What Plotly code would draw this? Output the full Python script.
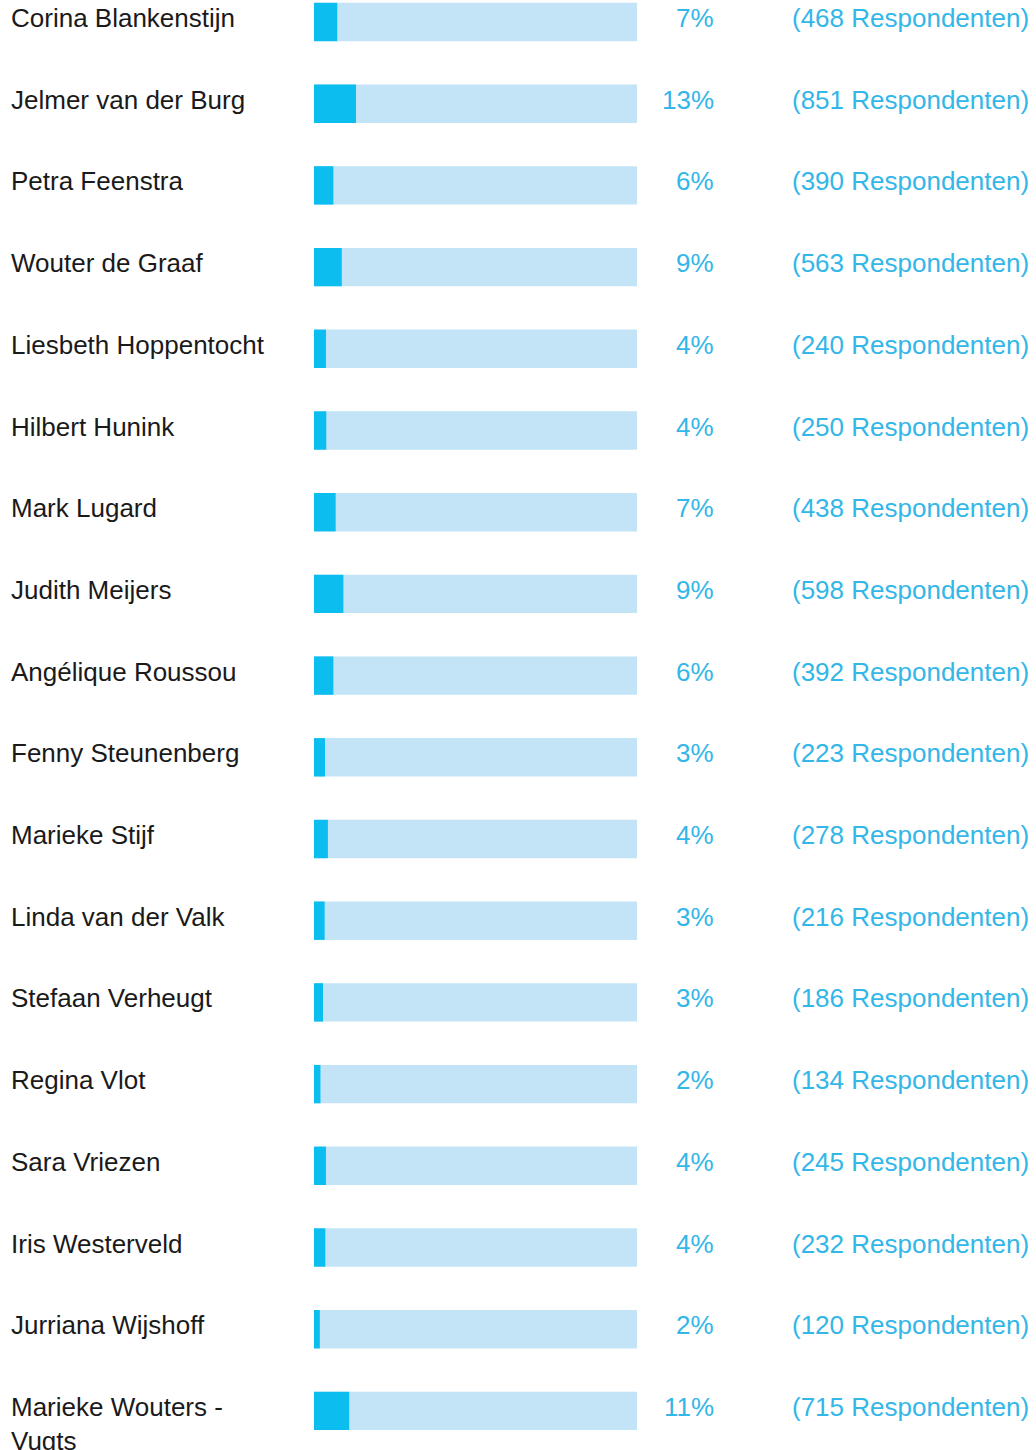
import plotly.graph_objects as go

names = ["Corina Blankenstijn", "Jelmer van der Burg", "Petra Feenstra", "Wouter de Graaf",
         "Liesbeth Hoppentocht", "Hilbert Hunink", "Mark Lugard", "Judith Meijers",
         "Angélique Roussou", "Fenny Steunenberg", "Marieke Stijf", "Linda van der Valk",
         "Stefaan Verheugt", "Regina Vlot", "Sara Vriezen", "Iris Westerveld",
         "Jurriana Wijshoff", "Marieke Wouters -<br>Vugts"]
bar_pct = [7.2, 13.0, 6.0, 8.6, 3.7, 3.8, 6.7, 9.1, 6.0, 3.4, 4.3, 3.3, 2.8, 2.0, 3.7, 3.5, 1.8, 10.9]
pct_labels = [7, 13, 6, 9, 4, 4, 7, 9, 6, 3, 4, 3, 3, 2, 4, 4, 2, 11]
respondents = [468, 851, 390, 563, 240, 250, 438, 598, 392, 223, 278, 216, 186, 134, 245, 232, 120, 715]
full_scale = 100

W, H = 1036, 1450
font = "Liberation Sans, Arial, sans-serif"
dark = "#0CBEEF"
light = "#C3E4F6"
txt_blue = "#33B6E8"
fs = 26

idx = list(range(len(names)))

fig = go.Figure()
fig.add_trace(go.Bar(y=idx, x=[full_scale] * len(idx), orientation="h",
                     marker=dict(color=light, line=dict(width=0)), width=0.47,
                     hoverinfo="skip"))
fig.add_trace(go.Bar(y=idx, x=bar_pct, orientation="h",
                     marker=dict(color=dark, line=dict(width=0)), width=0.47))

row_px = 81.7
top_px = 22
r0 = -top_px / row_px
r1 = r0 + H / row_px

ys = 21
ann = []
for i, n in enumerate(names):
    ann.append(dict(x=9 / W, xref="paper", y=i, yref="y", text=n, showarrow=False,
                    xanchor="left", yanchor="top", yshift=ys, align="left",
                    font=dict(family=font, size=fs, color="#1a1a1a")))
    ann.append(dict(x=716 / W, xref="paper", y=i, yref="y", text=f"{pct_labels[i]}%",
                    showarrow=False, xanchor="right", yanchor="top", yshift=ys,
                    font=dict(family=font, size=fs, color=txt_blue)))
    ann.append(dict(x=790 / W, xref="paper", y=i, yref="y",
                    text=f"({respondents[i]} Respondenten)", showarrow=False,
                    xanchor="left", yanchor="top", yshift=ys,
                    font=dict(family=font, size=fs, color=txt_blue)))

fig.update_layout(
    width=W, height=H, margin=dict(l=0, r=0, t=0, b=0),
    paper_bgcolor="white", plot_bgcolor="white",
    barmode="overlay", showlegend=False, annotations=ann,
    xaxis=dict(range=[0, full_scale], domain=[314 / W, 637 / W],
               visible=False, fixedrange=True),
    yaxis=dict(range=[r1, r0], visible=False, fixedrange=True),
)
fig.write_html("out.html", config={"displayModeBar": False},
               post_script="document.body.style.margin='0';document.body.style.overflow='hidden';")
